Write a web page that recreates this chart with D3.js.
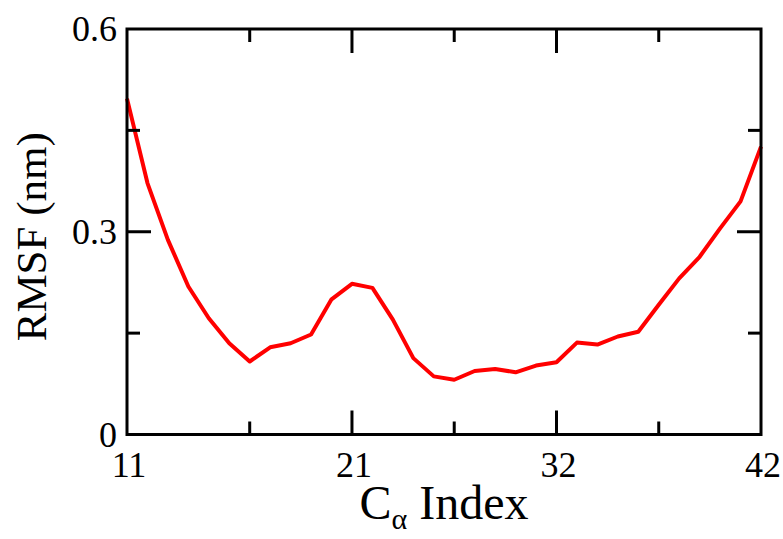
<!DOCTYPE html>
<html>
<head>
<meta charset="utf-8">
<script src="https://cdn.jsdelivr.net/npm/d3@7"></script>
<style>
  body { margin: 0; background: #fff; }
  text { font-family: "Liberation Serif", "Times New Roman", serif; fill: #000; }
</style>
</head>
<body>
<div id="chart"></div>
<script>
// Residue index (C-alpha) and RMSF in nm
const residues = [11, 12, 13, 14, 15, 16, 17, 18, 19, 20, 21, 22, 23, 24, 25, 26,
  27, 28, 29, 30, 31, 32, 33, 34, 35, 36, 37, 38, 39, 40, 41, 42];
const rmsf = [0.497, 0.372, 0.288, 0.219, 0.172, 0.135, 0.108, 0.129, 0.135, 0.148,
  0.200, 0.223, 0.217, 0.170, 0.113, 0.086, 0.081, 0.094, 0.097, 0.092, 0.102, 0.107,
  0.136, 0.133, 0.145, 0.152, 0.192, 0.231, 0.263, 0.305, 0.345, 0.426];

// tick positions and their printed labels (labels as in the figure)
const xMajor = [11, 22, 32, 42];
const xMajorLabels = ["11", "21", "32", "42"];
const xMinor = [17, 27, 37];
const yMajor = [0, 0.3, 0.6];
const yMajorLabels = ["0", "0.3", "0.6"];
const yMinor = [0.15, 0.45];

const W = 783, H = 539;
const LEFT = 127, RIGHT = 761, TOP = 29, BOTTOM = 434.5;
const MAJOR = 24, MINOR = 13;

const svg = d3.select("#chart").append("svg")
  .attr("width", W)
  .attr("height", H);

const x = d3.scaleLinear().domain([11, 42]).range([LEFT, RIGHT]);
const y = d3.scaleLinear().domain([0, 0.6]).range([BOTTOM, TOP]);

// data line
const line = d3.line()
  .x((d, i) => x(residues[i]))
  .y(d => y(d));

svg.append("path")
  .datum(rmsf)
  .attr("fill", "none")
  .attr("stroke", "#ff0000")
  .attr("stroke-width", 4)
  .attr("stroke-linejoin", "round")
  .attr("d", line);

// ticks, inward on all four sides
const tickG = svg.append("g")
  .attr("stroke", "#000")
  .attr("stroke-width", 3);

function xTicks(vals, len) {
  vals.forEach(v => {
    tickG.append("line").attr("x1", x(v)).attr("x2", x(v))
      .attr("y1", BOTTOM).attr("y2", BOTTOM - len);
    tickG.append("line").attr("x1", x(v)).attr("x2", x(v))
      .attr("y1", TOP).attr("y2", TOP + len);
  });
}
function yTicks(vals, len) {
  vals.forEach(v => {
    tickG.append("line").attr("x1", LEFT).attr("x2", LEFT + len)
      .attr("y1", y(v)).attr("y2", y(v));
    tickG.append("line").attr("x1", RIGHT).attr("x2", RIGHT - len)
      .attr("y1", y(v)).attr("y2", y(v));
  });
}
xTicks(xMajor.slice(1, -1), MAJOR);
xTicks(xMinor, MINOR);
yTicks(yMajor.slice(1, -1), MAJOR);
yTicks(yMinor, MINOR);

// frame
svg.append("rect")
  .attr("x", LEFT)
  .attr("y", TOP)
  .attr("width", RIGHT - LEFT)
  .attr("height", BOTTOM - TOP)
  .attr("fill", "none")
  .attr("stroke", "#000")
  .attr("stroke-width", 3);

// tick labels
svg.append("g").selectAll("text")
  .data(xMajor)
  .join("text")
  .attr("x", d => x(d) + 2)
  .attr("y", 477)
  .attr("text-anchor", "middle")
  .attr("font-size", 36)
  .text((d, i) => xMajorLabels[i]);

svg.append("g").selectAll("text")
  .data(yMajor)
  .join("text")
  .attr("x", 117)
  .attr("y", d => y(d))
  .attr("dy", "0.34em")
  .attr("text-anchor", "end")
  .attr("font-size", 36)
  .text((d, i) => yMajorLabels[i]);

// axis titles
const xt = svg.append("text")
  .attr("x", (LEFT + RIGHT) / 2)
  .attr("y", 519)
  .attr("text-anchor", "middle")
  .attr("font-size", 48);
xt.append("tspan").text("C");
xt.append("tspan").attr("font-size", 30).attr("dy", 10).text("α");
xt.append("tspan").attr("dy", -10).text(" Index");

svg.append("text")
  .attr("transform", "translate(46," + ((TOP + BOTTOM) / 2 + 5) + ") rotate(-90)")
  .attr("text-anchor", "middle")
  .attr("font-size", 43)
  .text("RMSF (nm)");
</script>
</body>
</html>
